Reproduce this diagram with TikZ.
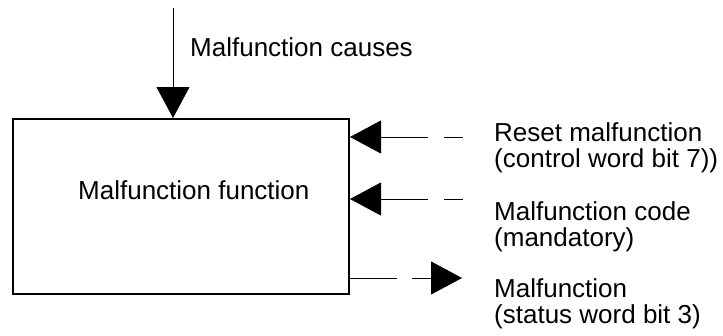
\documentclass[tikz,border=0pt]{standalone}
\usepackage{fontspec}
\setmainfont{Liberation Sans}
\usetikzlibrary{arrows.meta, positioning}

\tikzset{
  fnbox/.style={draw, line width=2pt, minimum width=336pt, minimum height=175pt, inner sep=0pt},
  lbl/.style={anchor=base west, align=left, inner sep=0pt, font=\fontsize{26}{26}\selectfont},
  sig/.style={line width=0.8pt, -{Triangle[length=31pt, width=33pt]}},
  sigin/.style={sig, dash pattern=on 19pt off 16pt on 300pt},
  sigout/.style={sig, dash pattern=on 47pt off 15pt on 300pt}
}

\begin{document}
\begin{tikzpicture}[x=1pt, y=-1pt]
   \useasboundingbox (0,0) rectangle (723,335);
   % function block
   \node[fnbox] (fn) at (181,206.5) {};
   \node[lbl] (fnname) at (78,199) {Malfunction function};
   % free ends
   \coordinate (causes) at (173,8);
   \coordinate (reset) at (463,137);
   \coordinate (code) at (463,199);
   \coordinate (fault) at (462,278);
   % labels (base = last line)
   \node[lbl] (causestxt) at (190,56) {Malfunction causes};
   \node[lbl] (resettxt) at (494,167) {Reset malfunction\\(control word bit 7))};
   \node[lbl] (codetxt) at (494,246) {Malfunction code\\(mandatory)};
   \node[lbl] (faulttxt) at (494,323) {Malfunction\\(status word bit 3)};
   % signals
   \draw[sig] (causes) -- (causes |- fn.north);
   \draw[sigin] (reset) -- (reset -| fn.east);
   \draw[sigin] (code) -- (code -| fn.east);
   \draw[sigout] (fault -| fn.east) -- (fault);
\end{tikzpicture}
\end{document}
